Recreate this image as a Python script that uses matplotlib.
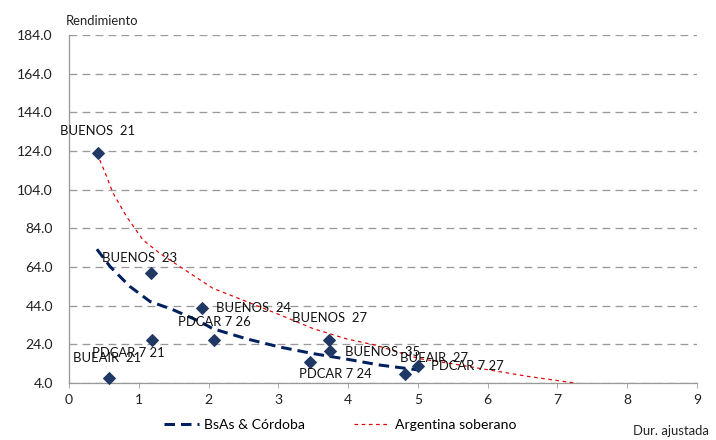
import matplotlib
matplotlib.use("Agg")
import matplotlib.pyplot as plt
import numpy as np
from matplotlib.ticker import FormatStrFormatter, MultipleLocator

plt.rcParams['font.family'] = ['Lato', 'DejaVu Sans']

# bonos provinciales: duracion ajustada vs rendimiento
names = ["BUENOS  21", "BUENOS  23", "BUENOS  24", "PDCAR 7 26", "PDCAR 7 21",
         "BUEAIR  21", "BUENOS  27", "BUENOS  35", "PDCAR 7 24", "PDCAR 7 27",
         "BUEAIR  27"]
dur = [0.42, 1.17, 1.90, 2.08, 1.19, 0.57, 3.73, 3.74, 3.45, 4.82, 5.00]
rend = [123.0, 61.0, 42.8, 26.4, 26.4, 6.7, 26.1, 20.5, 14.8, 8.7, 12.8]
# desplazamiento y alineacion de cada etiqueta (pixeles)
offs = [(-1, 22), (-11, 15), (14, 0), (0, 18), (-24, -13),
        (-2, 20), (0, 22), (15, -1), (26, -12), (26, 8), (16, 8)]
aligns = ["center", "center", "left", "center", "center",
          "center", "center", "left", "center", "left", "center"]

# tendencias
bsas_x = [0.40, 0.59, 0.87, 1.16, 1.49, 1.87, 2.06, 2.54, 3.02, 3.50, 3.97, 4.45, 4.93, 5.00]
bsas_y = [73.2, 64.2, 54.0, 46.2, 41.9, 35.9, 32.1, 26.9, 22.6, 19.2, 16.4, 13.3, 11.1, 10.8]
arg_x = [0.40, 0.52, 0.63, 0.83, 1.06, 1.30, 1.59, 2.06, 2.54, 3.02, 3.50, 3.97,
         4.40, 5.02, 5.45, 5.88, 6.60, 7.29]
arg_y = [122.8, 112.6, 102.3, 89.8, 78.0, 71.1, 64.2, 53.0, 46.2, 39.3, 32.1, 26.9,
         23.5, 16.6, 14.2, 11.6, 7.3, 3.8]
yticks = np.arange(4, 185, 20)

navy = "#1F3864"
fig = plt.figure(figsize=(716 / 72, 440 / 72), dpi=72)
ax = fig.add_axes([69 / 716, 1 - 383 / 440, 628 / 716, 348 / 440])

ax.plot(bsas_x, bsas_y, color="#002060", lw=3, dashes=(3.5, 2), label="BsAs & Córdoba",
        zorder=3)
ax.plot(arg_x, arg_y, color="#E00000", lw=1.2, dashes=(3, 3), label="Argentina soberano",
        zorder=3)
ax.plot(dur, rend, "D", color=navy, ms=8, zorder=4, clip_on=False)

for n, x, y, (dx, dy), ha in zip(names, dur, rend, offs, aligns):
    ax.annotate(n, (x, y), xytext=(dx, dy), textcoords="offset points",
                ha=ha, va="center", fontsize=13, color="#111111", zorder=5)

ax.set_xlim(0, 9)
ax.set_ylim(4, 184)
ax.set_yticks(yticks)
ax.yaxis.set_major_formatter(FormatStrFormatter("%.1f"))
ax.xaxis.set_major_locator(MultipleLocator(1))
ax.grid(axis="y", color="#999999", lw=1.3, dashes=(6, 4))
ax.set_axisbelow(True)
for s in ["top", "right"]:
    ax.spines[s].set_visible(False)
for s in ["left", "bottom"]:
    ax.spines[s].set_color("#999999")
    ax.spines[s].set_linewidth(1.3)
ax.tick_params(axis="y", length=0, pad=16, labelsize=14, labelcolor="#222222")
ax.tick_params(axis="x", length=5, color="#999999", pad=6, labelsize=14,
               labelcolor="#222222")

fig.text(66 / 716, 1 - 21 / 440, "Rendimiento", fontsize=13, va="center", ha="left",
         color="#222222")
fig.text(633 / 716, 1 - 431 / 440, "Dur. ajustada", fontsize=13, va="center", ha="left",
         color="#222222")

ax.legend(loc="center", bbox_to_anchor=(340 / 716, 1 - 425 / 440),
          bbox_transform=fig.transFigure, ncol=2, frameon=False, fontsize=14,
          handlelength=2.5, columnspacing=3.5, handletextpad=0.4)

fig.savefig("out.png", dpi=72)
